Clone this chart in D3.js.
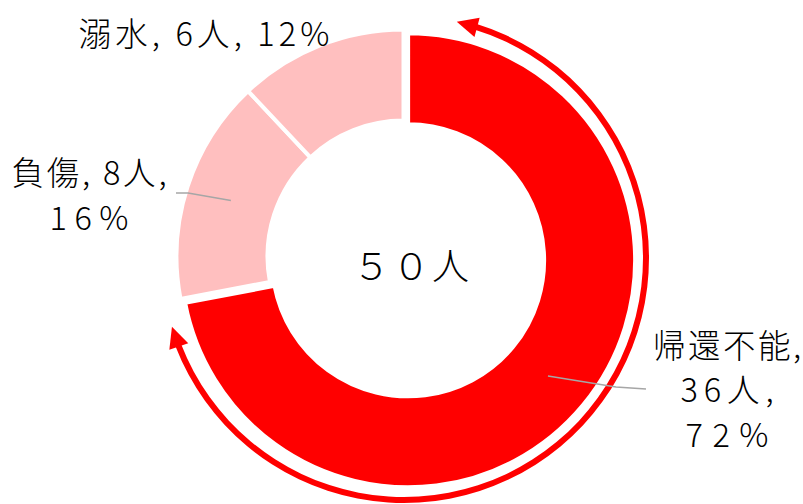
<!DOCTYPE html>
<html><head><meta charset="utf-8">
<script src="https://cdn.jsdelivr.net/npm/d3@7"></script>
<style>html,body{margin:0;padding:0;background:#fff;}svg{display:block;}</style>
</head><body>
<svg id="chart" width="803" height="504"></svg>
<script>
// ---- data ----
const categories = ["帰還不能", "負傷", "溺水"];
const counts = [36, 8, 6];
const sliceColors = ["#ff0000", "#ffbfbf", "#ffbfbf"];
const exploded = [true, false, false];
// label line grouping (indices into [category, count, percent])
const labelGroups = [[[0], [1], [2]], [[0, 1], [2]], [[0, 1, 2]]];

// ---- layout ----
const W = 803, H = 504;
const cx = 403.5, cy = 256.5;
const outerR = 227, innerR = 136, explode = 6;
const labelLayout = [
  {x: 727, y: [358, 402, 447], len: [148, 93, 83], leader: [[616, 387], [646, 389]]},
  {x: 89, y: [185, 230], len: [155, 79], leader: [[188, 193], [176, 193]]},
  {x: 204, y: [46], len: [251], leader: null}
];

const svg = d3.select("#chart");
const total = d3.sum(counts);
const data = categories.map((c, i) => ({cat: c, v: counts[i], i}));

const pie = d3.pie().sort(null).value(d => d.v).startAngle(0).endAngle(2 * Math.PI);
const arcs = pie(data);
const arc = d3.arc().innerRadius(innerR).outerRadius(outerR);

const g = svg.append("g").attr("transform", `translate(${cx},${cy})`);

function offsetOf(a) {
  if (!exploded[a.data.i]) return [0, 0];
  const m = (a.startAngle + a.endAngle) / 2;
  return [Math.sin(m) * explode, -Math.cos(m) * explode];
}

// draw pink first, then exploded slice
const order = arcs.slice().sort((a, b) => (exploded[a.data.i] ? 1 : 0) - (exploded[b.data.i] ? 1 : 0));
g.selectAll("path.slice").data(order).join("path")
  .attr("class", "slice")
  .attr("d", arc)
  .attr("transform", d => { const o = offsetOf(d); return `translate(${o[0]},${o[1]})`; })
  .attr("fill", d => sliceColors[d.data.i])
  .attr("stroke", "#fff")
  .attr("stroke-width", 4)
  .attr("stroke-linejoin", "miter");

// ---- circular double-headed arrow around the exploded slice ----
const ar = 242, aw = 6;
const ac = [0.5, 1.5]; // arrow circle centre offset
const tipA1 = 12.6 * Math.PI / 180, tipA2 = 253.5 * Math.PI / 180;
const headLen = 21, headW = 20;
const dA = headLen / ar;
const ag = svg.append("g").attr("transform", `translate(${cx + ac[0]},${cy + ac[1]})`);
ag.append("path")
  .attr("d", d3.arc().innerRadius(ar - aw / 2).outerRadius(ar + aw / 2)
    .startAngle(tipA1 + dA - 0.005).endAngle(tipA2 - dA + 0.005)())
  .attr("fill", "#ff0000");
function head(tipAng, baseAng) {
  const tip = [Math.sin(tipAng) * ar, -Math.cos(tipAng) * ar];
  const base = [Math.sin(baseAng) * ar, -Math.cos(baseAng) * ar];
  const dx = tip[0] - base[0], dy = tip[1] - base[1];
  const L = Math.hypot(dx, dy);
  const nx = -dy / L * headW / 2, ny = dx / L * headW / 2;
  const t = [base[0] + dx / L * headLen, base[1] + dy / L * headLen];
  return `M${t[0]},${t[1]}L${base[0] + nx},${base[1] + ny}L${base[0] - nx},${base[1] - ny}Z`;
}
ag.append("path").attr("d", head(tipA1, tipA1 + dA)).attr("fill", "#ff0000");
ag.append("path").attr("d", head(tipA2, tipA2 - dA)).attr("fill", "#ff0000");

// ---- leader lines ----
arcs.forEach(a => {
  const L = labelLayout[a.data.i];
  if (!L.leader) return;
  const o = offsetOf(a);
  const c = arc.centroid(a);
  const pts = [[cx + c[0] + o[0], cy + c[1] + o[1]], ...L.leader];
  svg.append("path")
    .attr("d", d3.line()(pts))
    .attr("fill", "none")
    .attr("stroke", "#a6a6a6")
    .attr("stroke-width", 1.5);
});

// ---- labels ----
const font = "'Noto Sans CJK JP', 'Noto Sans', sans-serif";
arcs.forEach(a => {
  const i = a.data.i;
  const pct = Math.round(a.data.v / total * 100);
  const parts = [a.data.cat, a.data.v + "人", pct + "%"];
  const groups = labelGroups[i];
  const L = labelLayout[i];
  groups.forEach((grp, li) => {
    let s = grp.map(k => parts[k]).join(", ");
    if (li < groups.length - 1) s += ",";
    svg.append("text")
      .attr("x", L.x).attr("y", L.y[li])
      .attr("text-anchor", "middle")
      .attr("font-family", font)
      .attr("font-size", 32.5)
      .attr("font-weight", 300)
      .attr("fill", "#000")
      .attr("textLength", L.len[li])
      .attr("lengthAdjust", "spacing")
      .text(s);
  });
});

// centre total
const toFull = s => String(s).replace(/[0-9]/g, ch => String.fromCharCode(ch.charCodeAt(0) + 0xFEE0));
svg.append("text")
  .attr("x", 411).attr("y", 280)
  .attr("text-anchor", "middle")
  .attr("font-family", font)
  .attr("font-size", 37)
  .attr("font-weight", 300)
  .attr("fill", "#000")
  .attr("textLength", 116)
  .attr("lengthAdjust", "spacing")
  .text(toFull(total) + "人");
</script>
</body></html>
